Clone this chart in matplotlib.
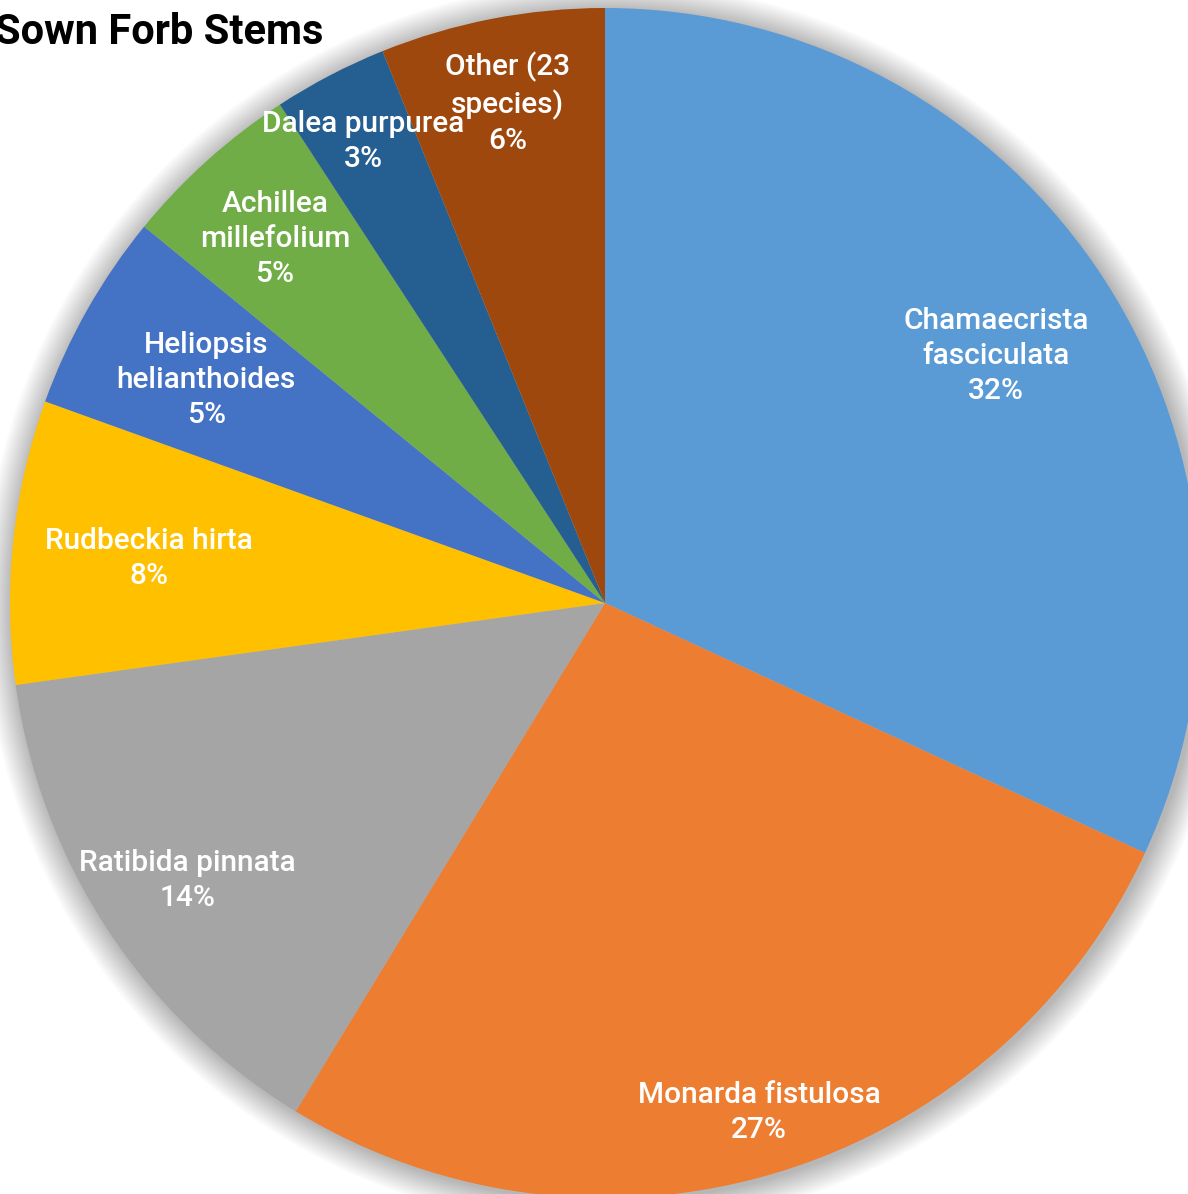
import matplotlib.pyplot as plt
import matplotlib.patches as mpatches
import numpy as np
from matplotlib import font_manager

# share of sown forb stems by species (percent)
species = ['Chamaecrista\nfasciculata', 'Monarda fistulosa', 'Ratibida pinnata',
           'Rudbeckia hirta', 'Heliopsis\nhelianthoides', 'Achillea\nmillefolium',
           'Dalea purpurea', 'Other (23\nspecies)']
share = [31.9, 26.8, 14.1, 7.7, 5.4, 4.9, 3.1, 6.1]
colors = ['#5B9BD5', '#ED7D31', '#A5A5A5', '#FFC000', '#4472C4', '#70AD47',
          '#255E91', '#9E480E']
# how far out each label sits, as a fraction of the radius
label_r = [0.78, 0.89, 0.84, 0.77, 0.77, 0.83, 0.88, 0.86]

names = {f.name for f in font_manager.fontManager.ttflist}
label_font = 'Roboto' if 'Roboto' in names else 'DejaVu Sans'
title_font = 'Roboto' if 'Roboto' in names else 'Liberation Sans'

W, H = 1188, 1194
cx, cy, R = 605, 603, 595

fig = plt.figure(figsize=(W / 100, H / 100), dpi=100)
ax = fig.add_axes([0, 0, 1, 1])

# soft glow behind the pie
for k in range(24):
    ax.add_patch(mpatches.Circle((0.004, -0.004), 1.0 + 0.002 * (k + 1),
                                 color='black', alpha=0.01, lw=0, zorder=0))

wedges, _ = ax.pie(share, colors=colors, startangle=90, counterclock=False,
                   radius=1.0, frame=True, wedgeprops=dict(linewidth=0, zorder=2))

total = sum(share)
for w, name, val, r in zip(wedges, species, share, label_r):
    mid = np.deg2rad((w.theta1 + w.theta2) / 2)
    ax.text(r * np.cos(mid), r * np.sin(mid) - 0.005, f'{name}\n{val / total * 100:.0f}%',
            ha='center', va='center', color='white', fontsize=21.5,
            fontweight='medium', family=label_font, linespacing=1.32, zorder=3)

ax.set_aspect('auto')
ax.set_xlim(-cx / R, (W - cx) / R)
ax.set_ylim(-(H - cy) / R, cy / R)
ax.axis('off')

fig.text(-0.004, 0.973, 'Sown Forb Stems', fontsize=30, fontweight='bold',
         family=title_font, ha='left', va='center', color='black')

fig.savefig('out.png', dpi=100)
